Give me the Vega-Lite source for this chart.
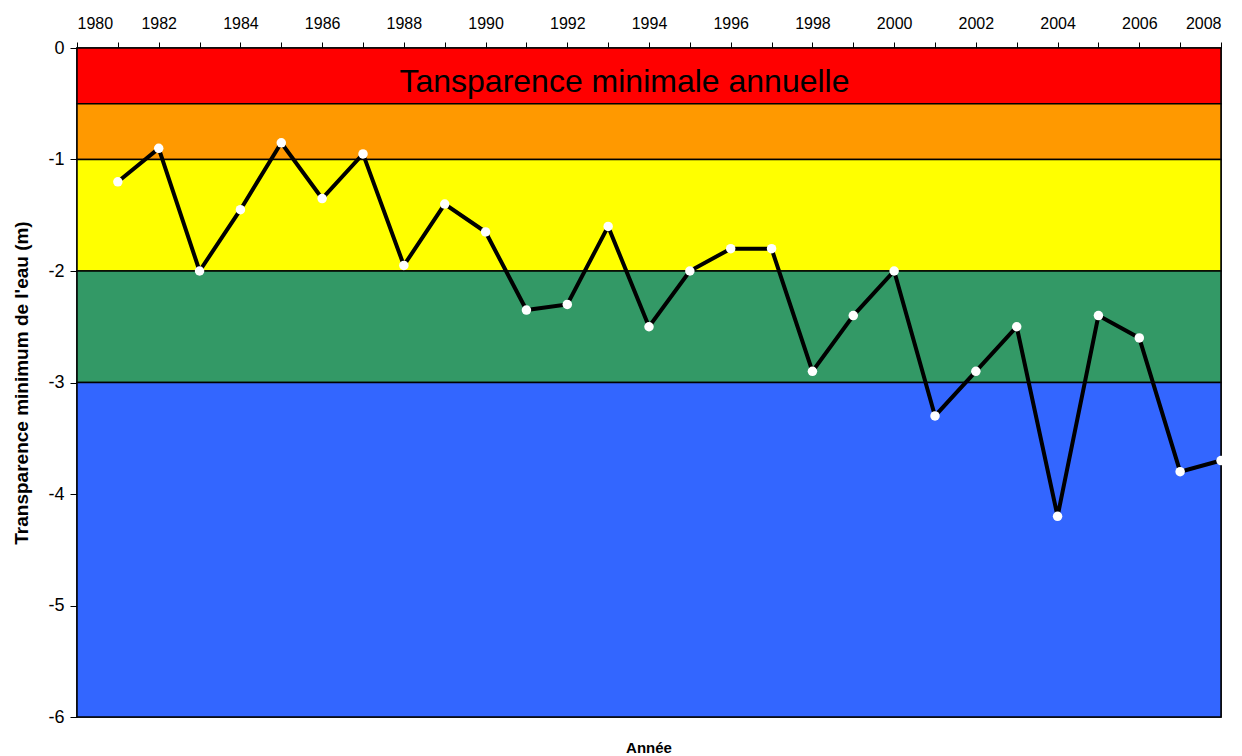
{
  "$schema": "https://vega.github.io/schema/vega-lite/v6.json",
  "width": 1144,
  "height": 669,
  "autosize": {"type": "none"},
  "padding": {"left": 77, "top": 48, "right": 21, "bottom": 39},
  "background": "white",
  "config": {
    "font": "Liberation Sans",
    "view": {"stroke": "black", "strokeWidth": 1.5},
    "axis": {"grid": false, "domainColor": "black", "tickColor": "black", "labelColor": "black", "titleColor": "black", "labelFont": "Liberation Sans", "titleFont": "Liberation Sans"}
  },
  "title": {"text": "Année", "orient": "bottom", "fontSize": 15, "fontWeight": "bold", "font": "Liberation Sans", "offset": 15, "color": "black"},
  "datasets": {
    "bands": [
      {"top": 0, "bottom": -0.5, "zone": "rouge"},
      {"top": -0.5, "bottom": -1, "zone": "orange"},
      {"top": -1, "bottom": -2, "zone": "jaune"},
      {"top": -2, "bottom": -3, "zone": "vert"},
      {"top": -3, "bottom": -6, "zone": "bleu"}
    ],
    "obs": [
      {"annee": 1981, "transparence": -1.2},
      {"annee": 1982, "transparence": -0.9},
      {"annee": 1983, "transparence": -2.0},
      {"annee": 1984, "transparence": -1.45},
      {"annee": 1985, "transparence": -0.85},
      {"annee": 1986, "transparence": -1.35},
      {"annee": 1987, "transparence": -0.95},
      {"annee": 1988, "transparence": -1.95},
      {"annee": 1989, "transparence": -1.4},
      {"annee": 1990, "transparence": -1.65},
      {"annee": 1991, "transparence": -2.35},
      {"annee": 1992, "transparence": -2.3},
      {"annee": 1993, "transparence": -1.6},
      {"annee": 1994, "transparence": -2.5},
      {"annee": 1995, "transparence": -2.0},
      {"annee": 1996, "transparence": -1.8},
      {"annee": 1997, "transparence": -1.8},
      {"annee": 1998, "transparence": -2.9},
      {"annee": 1999, "transparence": -2.4},
      {"annee": 2000, "transparence": -2.0},
      {"annee": 2001, "transparence": -3.3},
      {"annee": 2002, "transparence": -2.9},
      {"annee": 2003, "transparence": -2.5},
      {"annee": 2004, "transparence": -4.2},
      {"annee": 2005, "transparence": -2.4},
      {"annee": 2006, "transparence": -2.6},
      {"annee": 2007, "transparence": -3.8},
      {"annee": 2008, "transparence": -3.7}
    ],
    "label": [
      {"annee": 1993.4, "transparence": -0.395, "texte": "Tansparence minimale annuelle"}
    ]
  },
  "layer": [
    {
      "data": {"name": "bands"},
      "mark": {"type": "rect", "stroke": "black", "strokeWidth": 1.5},
      "encoding": {
        "x": {"datum": 1980, "type": "quantitative", "scale": {"domain": [1980, 2008], "nice": false, "zero": false},
          "axis": {"orient": "top", "title": null, "values": [1980,1981,1982,1983,1984,1985,1986,1987,1988,1989,1990,1991,1992,1993,1994,1995,1996,1997,1998,1999,2000,2001,2002,2003,2004,2005,2006,2007,2008],
            "labelExpr": "datum.value % 2 == 0 ? '' + datum.value : ''", "labelFontSize": 16, "tickSize": 6, "labelPadding": 11, "labelOverlap": false, "domain": false}},
        "x2": {"datum": 2008},
        "y": {"field": "top", "type": "quantitative", "scale": {"domain": [-6, 0], "nice": false},
          "axis": {"title": "Transparence minimum de l'eau (m)", "values": [-6,-5,-4,-3,-2,-1,0], "labelExpr": "'' + datum.value", "labelFontSize": 18, "tickSize": 7, "labelPadding": 6, "titleFontSize": 19, "titleFontWeight": "bold", "titlePadding": 16, "domain": false}},
        "y2": {"field": "bottom"},
        "fill": {"field": "zone", "type": "nominal", "legend": null,
          "scale": {"domain": ["rouge", "orange", "jaune", "vert", "bleu"], "range": ["#FF0000", "#FF9900", "#FFFF00", "#339966", "#3366FF"]}}
      }
    },
    {
      "data": {"name": "label"},
      "mark": {"type": "text", "fontSize": 32, "font": "Liberation Sans", "color": "black", "align": "center", "baseline": "alphabetic"},
      "encoding": {
        "x": {"field": "annee", "type": "quantitative"},
        "y": {"field": "transparence", "type": "quantitative"},
        "text": {"field": "texte"}
      }
    },
    {
      "data": {"name": "obs"},
      "mark": {"type": "line", "color": "black", "strokeWidth": 4},
      "encoding": {
        "x": {"field": "annee", "type": "quantitative"},
        "y": {"field": "transparence", "type": "quantitative"}
      }
    },
    {
      "data": {"name": "obs"},
      "mark": {"type": "circle", "color": "white", "size": 90, "opacity": 1},
      "encoding": {
        "x": {"field": "annee", "type": "quantitative"},
        "y": {"field": "transparence", "type": "quantitative"}
      }
    }
  ]
}
